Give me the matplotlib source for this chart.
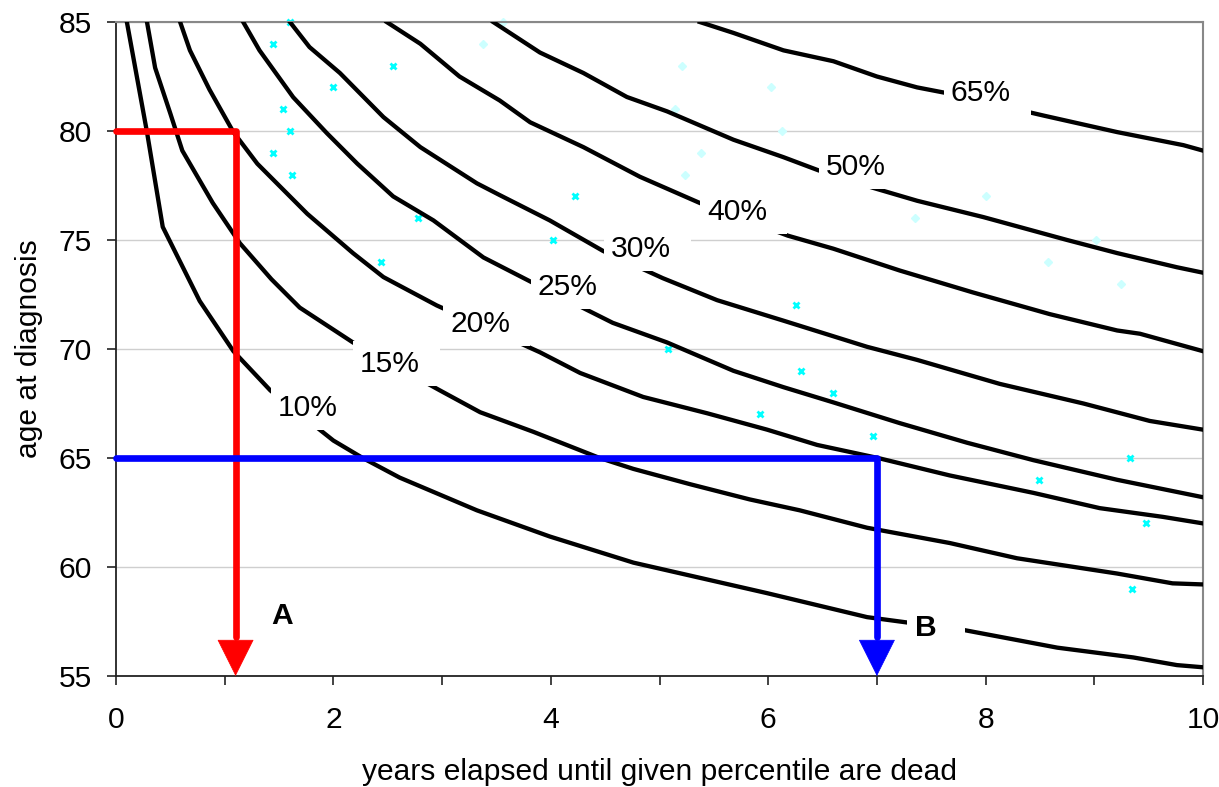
import matplotlib
matplotlib.use('Agg')
import matplotlib.pyplot as plt
from matplotlib.patches import Rectangle

plt.rcParams['font.family'] = ['Liberation Sans', 'DejaVu Sans']

# ---------------- data ----------------
p10_years = [0.10, 0.285, 0.43, 0.77, 1.08, 1.42, 2.0, 2.27, 2.61, 3.32, 3.99, 4.76, 5.99, 6.91, 7.81, 8.66, 9.36, 9.76, 10.0]
p10_age = [85, 79.95, 75.6, 72.2, 69.9, 68.1, 65.8, 65.0, 64.1, 62.6, 61.4, 60.2, 58.8, 57.7, 57.1, 56.3, 55.85, 55.5, 55.4]

p15_years = [0.285, 0.36, 0.50, 0.61, 0.89, 1.14, 1.43, 1.69, 2.18, 2.98, 3.35, 3.84, 4.45, 4.76, 5.28, 5.83, 6.29, 6.91, 7.67, 8.29, 9.21, 9.72, 10.0]
p15_age = [85, 82.9, 80.8, 79.1, 76.7, 74.85, 73.2, 71.9, 70.3, 68.1, 67.1, 66.2, 65.0, 64.5, 63.8, 63.1, 62.6, 61.8, 61.1, 60.4, 59.7, 59.25, 59.2]

p20_years = [0.59, 0.68, 0.86, 1.08, 1.30, 1.76, 2.18, 2.46, 2.95, 3.9, 4.27, 4.85, 5.44, 5.99, 6.45, 7.01, 7.67, 8.44, 9.05, 9.63, 10.0]
p20_age = [85, 83.7, 81.9, 79.95, 78.5, 76.2, 74.4, 73.3, 72.0, 69.85, 68.9, 67.8, 67.05, 66.3, 65.6, 65.0, 64.2, 63.4, 62.7, 62.3, 62.0]

p25_years = [1.17, 1.32, 1.63, 1.94, 2.22, 2.55, 2.92, 3.38, 3.81, 4.57, 5.07, 5.68, 6.14, 6.6, 7.21, 7.83, 8.44, 9.21, 10.0]
p25_age = [85, 83.7, 81.55, 79.9, 78.5, 77.0, 75.9, 74.2, 73.1, 71.2, 70.3, 69.0, 68.25, 67.55, 66.6, 65.7, 64.9, 64.0, 63.2]

p30_years = [1.6, 1.78, 2.06, 2.46, 2.8, 3.32, 3.53, 3.99, 4.48, 5.03, 5.53, 6.14, 6.91, 7.37, 8.13, 8.9, 9.51, 10.0]
p30_age = [85, 83.85, 82.66, 80.64, 79.26, 77.6, 77.06, 75.9, 74.5, 73.25, 72.24, 71.3, 70.1, 69.5, 68.4, 67.5, 66.7, 66.3]

p40_years = [2.49, 2.8, 3.16, 3.53, 3.81, 4.3, 4.82, 5.37, 6.18, 6.6, 7.21, 7.88, 8.59, 9.21, 9.42, 10.0]
p40_age = [85, 84.0, 82.5, 81.4, 80.4, 79.26, 77.9, 76.7, 75.2, 74.6, 73.6, 72.6, 71.6, 70.85, 70.7, 69.9]

p50_years = [3.47, 3.9, 4.3, 4.7, 5.07, 5.68, 6.14, 6.46, 6.96, 7.37, 7.98, 8.75, 9.21, 9.76, 10.0]
p50_age = [85, 83.6, 82.66, 81.56, 80.9, 79.6, 78.8, 78.2, 77.4, 76.8, 76.05, 75.0, 74.4, 73.75, 73.5]

p65_years = [5.37, 5.68, 6.14, 6.6, 7.0, 7.37, 7.63, 8.54, 9.21, 9.82, 10.0]
p65_age = [85, 84.5, 83.7, 83.2, 82.5, 82.0, 81.75, 80.7, 79.95, 79.35, 79.1]

curve_labels = ['10%', '15%', '20%', '25%', '30%', '40%', '50%', '65%']
label_years = [1.767, 2.521, 3.349, 4.158, 4.830, 5.713, 6.807, 7.957]
label_age = [67.41, 69.43, 71.27, 72.97, 74.71, 76.41, 78.48, 81.88]

# observed points (cyan crosses)
obs_x_years = [1.60, 1.44, 2.55, 2.00, 1.54, 1.60, 1.44, 1.62, 2.78, 2.44, 4.22, 4.02,
               6.26, 5.08, 6.30, 6.60, 5.92, 6.96, 9.33, 8.49, 9.48, 9.35]
obs_x_age = [85, 84, 83, 82, 81, 80, 79, 78, 76, 74, 77, 75,
             72, 70, 69, 68, 67, 66, 65, 64, 62, 59]
# observed points (pale diamonds)
obs_d_years = [3.56, 3.38, 5.21, 6.03, 5.14, 6.13, 5.38, 5.23, 8.00, 7.35, 9.02, 8.57, 9.25]
obs_d_age = [85, 84, 83, 82, 81, 80, 79, 78, 77, 76, 75, 74, 73]

# worked examples
ex_a_age, ex_a_years = 80, 1.1
ex_b_age, ex_b_years = 65, 7.0
ex_a_text_pos = (1.527, 57.91)
ex_b_text_pos = (7.452, 57.36)

xticks_major = [0, 2, 4, 6, 8, 10]
xticks_minor = [1, 3, 5, 7, 9]
yticks = [55, 60, 65, 70, 75, 80, 85]

FS = 21.6

# ---------------- figure ----------------
fig = plt.figure(figsize=(12.19, 7.87), dpi=100)
ax = fig.add_axes([116 / 1219, 1 - 676 / 787, 1087 / 1219, 654 / 787])
ax.set_xlim(0, 10)
ax.set_ylim(55, 85)

ax.set_yticks(yticks)
ax.set_xticks(xticks_major)
ax.set_xticks(xticks_minor, minor=True)
ax.tick_params(axis='both', which='both', direction='out', length=6.5, width=1.2,
               colors='#222222', labelsize=FS, labelcolor='black')
ax.tick_params(axis='x', which='major', pad=15)
ax.tick_params(axis='y', which='major', pad=11)

ax.yaxis.grid(True, color='#cfcfcf', lw=1.0, zorder=0)
ax.set_axisbelow(True)

for s in ('left', 'bottom'):
    ax.spines[s].set_color('#222222')
    ax.spines[s].set_linewidth(1.3)
for s in ('top', 'right'):
    ax.spines[s].set_color('#888888')
    ax.spines[s].set_linewidth(1.5)

# observations
ax.plot(obs_d_years, obs_d_age, linestyle='none', marker='D', ms=4.2,
        color='#ccffff', mec='#ccffff', zorder=2, clip_on=False)
ax.plot(obs_x_years, obs_x_age, linestyle='none', marker='x', ms=4.8, mew=2.0,
        color='#00ffff', zorder=2, clip_on=False)

# percentile curves
curves = [(p10_years, p10_age), (p15_years, p15_age), (p20_years, p20_age),
          (p25_years, p25_age), (p30_years, p30_age), (p40_years, p40_age),
          (p50_years, p50_age), (p65_years, p65_age)]
for xs, ys in curves:
    ax.plot(xs, ys, color='black', lw=3.1, zorder=3, solid_joinstyle='round')

# white label boxes (in pixel offsets around label centre)
fig.canvas.draw()
inv = ax.transData.inverted()


def white_box(xc, yc, left, right, down, up):
    cx, cy = ax.transData.transform((xc, yc))
    x0, y0 = inv.transform((cx - left, cy - down))
    x1, y1 = inv.transform((cx + right, cy + up))
    ax.add_patch(Rectangle((x0, y0), x1 - x0, y1 - y0, facecolor='white',
                           edgecolor='none', zorder=4))


for lab, lx, ly in zip(curve_labels, label_years, label_age):
    white_box(lx, ly, 37, 50, 25, 20)
    ax.annotate(lab, (lx, ly), xytext=(0, -7.9), textcoords='offset points',
                ha='center', va='baseline', fontsize=FS, zorder=5)

white_box(ex_b_text_pos[0], ex_b_text_pos[1], 19, 39, 25, 20)
for txt, pos in (('A', ex_a_text_pos), ('B', ex_b_text_pos)):
    ax.annotate(txt, pos, xytext=(0, -7.9), textcoords='offset points',
                ha='center', va='baseline', fontsize=FS, fontweight='bold', zorder=5)

# example arrows
for age, yrs, col in ((ex_a_age, ex_a_years, '#ff0000'), (ex_b_age, ex_b_years, '#0000ff')):
    ax.plot([0, yrs, yrs], [age, age, 56.8], color=col, lw=4.8,
            solid_capstyle='round', solid_joinstyle='round', zorder=6, clip_on=False)
    ax.annotate('', xy=(yrs, 55), xytext=(yrs, 58),
                arrowprops=dict(arrowstyle='-|>', color=col, lw=0.5,
                                mutation_scale=63, shrinkA=0, shrinkB=0),
                zorder=6, annotation_clip=False)

ax.set_xlabel('years elapsed until given percentile are dead', fontsize=FS)
ax.xaxis.set_label_coords(0.5, -0.126)
ax.set_ylabel('age at diagnosis', fontsize=FS)
ax.yaxis.set_label_coords(-0.067, 0.5)

fig.savefig('out.png', dpi=100)
